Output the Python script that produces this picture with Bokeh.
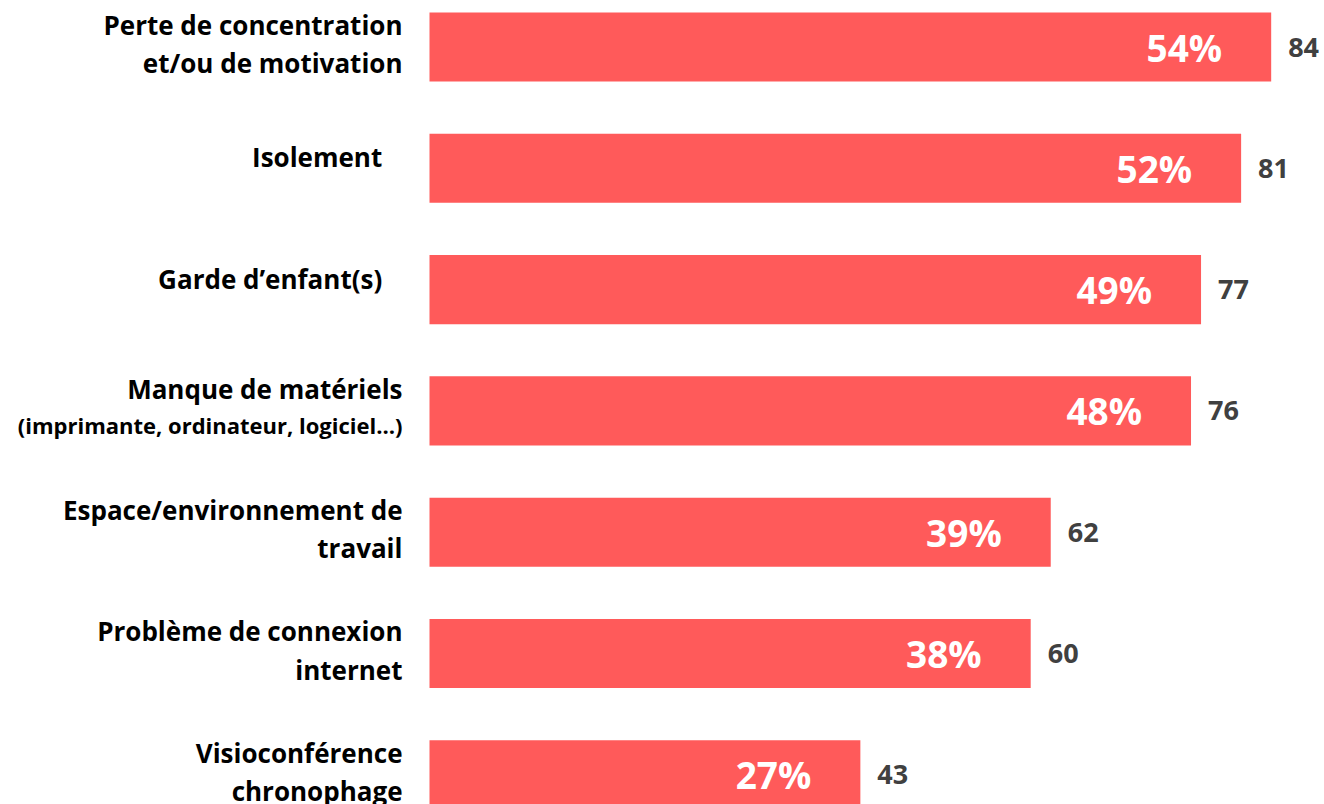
from bokeh.plotting import figure
from bokeh.models import Range1d, ColumnDataSource
from bokeh.core.properties import value
from bokeh.embed import file_html
from bokeh.resources import INLINE

categories = [
    "Perte de concentration\net/ou de motivation",
    "Isolement\u00a0\u00a0\u00a0",
    "Garde d\u2019enfant(s)\u00a0\u00a0\u00a0",
    "Manque de matériels",
    "Espace/environnement de\ntravail",
    "Problème de connexion\ninternet",
    "Visioconférence\nchronophage",
]
sub_labels = ["", "", "", "(imprimante, ordinateur, logiciel\u2026)", "", "", ""]
counts = [84, 81, 77, 76, 62, 60, 43]
percents = ["54%", "52%", "49%", "48%", "39%", "38%", "27%"]

FONT = "Open Sans"
ypos = list(range(len(categories)))
src = ColumnDataSource(dict(y=ypos, n=counts, pct=percents,
                            nlab=[str(c) for c in counts]))

px_per_unit = 10.02
x0_px = 429
W, H = 1324, 804
step = 121.3
y_top = -46.5 / step

p = figure(width=W, height=H, output_backend="svg", toolbar_location=None,
           x_range=Range1d(-x0_px / px_per_unit, (W - x0_px) / px_per_unit),
           y_range=Range1d(y_top + H / step, y_top),
           min_border=0, outline_line_color=None)
p.axis.visible = False
p.grid.visible = False

p.hbar(y="y", left=0, right="n", height=0.57, source=src,
       fill_color="#FF5A5A", line_color=None)

# percentage inside bars
p.text(x="n", y="y", text="pct", source=src, x_offset=-49,
       text_align="right", text_baseline="middle",
       text_font=value(FONT), text_font_style="bold",
       text_font_size="37px", text_color="white")

# counts outside
p.text(x="n", y="y", text="nlab", source=src, x_offset=17,
       text_align="left", text_baseline="middle",
       text_font=value(FONT), text_font_style="bold",
       text_font_size="27px", text_color="#404040")

label_style = dict(text_align="right", text_baseline="middle",
                   text_font=value(FONT), text_font_style="bold",
                   text_color="#000000")

# two-line category labels
two = [(y, c) for y, c, s in zip(ypos, categories, sub_labels) if not s and "\n" in c]
two_src = ColumnDataSource(dict(y=[t[0] for t in two], cat=[t[1] for t in two]))
p.text(x=0, y="y", text="cat", source=two_src, x_offset=-27, y_offset=-3,
       text_line_height=1.07, text_font_size="26px", **label_style)

# one-line category labels
one = [(y, c) for y, c, s in zip(ypos, categories, sub_labels) if not s and "\n" not in c]
one_src = ColumnDataSource(dict(y=[t[0] for t in one], cat=[t[1] for t in one]))
p.text(x=0, y="y", text="cat", source=one_src, x_offset=-27, y_offset=-11,
       text_font_size="26px", **label_style)

# label with a smaller second line
sub_src = ColumnDataSource(dict(y=[y for y, s in zip(ypos, sub_labels) if s],
                                cat=[c for c, s in zip(categories, sub_labels) if s],
                                sub=[s for s in sub_labels if s]))
p.text(x=0, y="y", text="cat", source=sub_src, x_offset=-27, y_offset=-22,
       text_font_size="26px", **label_style)
p.text(x=0, y="y", text="sub", source=sub_src, x_offset=-27, y_offset=14,
       text_font_size="22px", **label_style)

open("out.html", "w").write(file_html(p, INLINE))
